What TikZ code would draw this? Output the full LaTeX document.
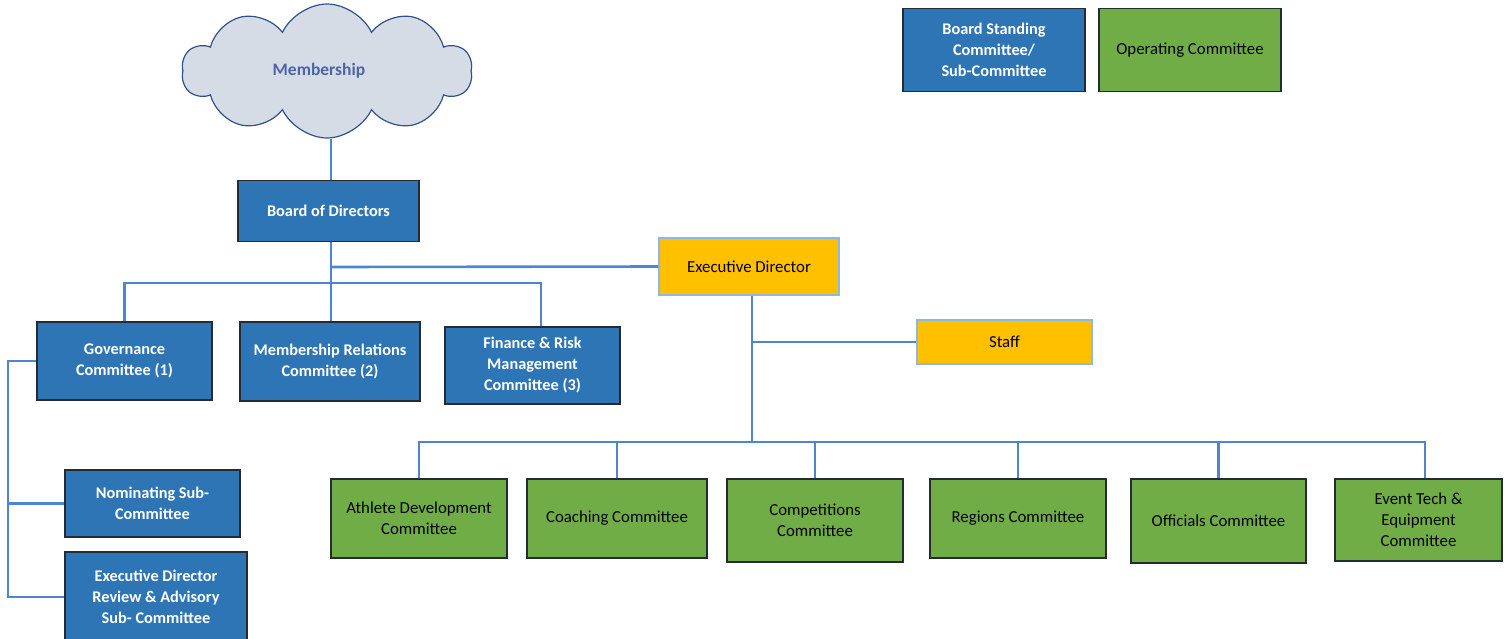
\documentclass[tikz,border=0pt]{standalone}
\usepackage{fontspec}
\setmainfont{Carlito}
\usetikzlibrary{positioning,shapes.symbols}
\definecolor{BoardBlue}{HTML}{2E75B6}
\definecolor{OpsGreen}{HTML}{70AD47}
\definecolor{ExecGold}{HTML}{FFC000}
\definecolor{EdgeDark}{HTML}{262B33}
\definecolor{LinkBlue}{HTML}{4F84CF}
\definecolor{GoldEdge}{HTML}{8DB8E6}
\definecolor{CloudGrey}{HTML}{D6DCE5}
\definecolor{CloudEdge}{HTML}{2F528F}
\definecolor{CloudText}{HTML}{4A66A8}

\begin{document}
\begin{tikzpicture}[x=1pt,y=-1pt,
    boardbox/.style={draw=EdgeDark,line width=1.4pt,fill=BoardBlue,text=white,
      font=\fontsize{16.3}{21}\selectfont\bfseries,align=center,inner sep=0pt},
    opsbox/.style={draw=EdgeDark,line width=1.4pt,fill=OpsGreen,text=black,
      font=\fontsize{16.8}{21}\selectfont,align=center,inner sep=0pt},
    goldbox/.style={draw=GoldEdge,line width=1.4pt,fill=ExecGold,text=black,
      font=\fontsize{16.8}{21}\selectfont,align=center,inner sep=0pt},
    link/.style={draw=LinkBlue,line width=2.6pt}]
  \useasboundingbox (0,0) rectangle (1510,638);

  % top of the chart
  \node[cloud,cloud puffs=10,cloud puff arc=130,cloud ignores aspect,
        draw=CloudEdge,line width=1.2pt,fill=CloudGrey,text=CloudText,
        font=\fontsize{17.5}{21}\selectfont\bfseries,
        minimum width=290,minimum height=134] (members) at (327,71) {Membership\hspace*{16pt}};
  \node[boardbox,minimum width=181,minimum height=61] (board) at (328.5,211) {Board of Directors};

  % legend
  \node[boardbox,minimum width=182,minimum height=83] (keyboard) at (994,50)
        {Board Standing\\Committee/\\Sub-Committee};
  \node[opsbox,minimum width=182,minimum height=83] (keyops) at (1190,50) {Operating Committee};

  % board committees
  \node[boardbox,minimum width=175,minimum height=78] (gov) at (124.5,361) {Governance\\Committee (1)};
  \node[boardbox,minimum width=180,minimum height=79] (mrel) at (330,361.5) {Membership Relations\\Committee (2)};
  \node[boardbox,minimum width=175,minimum height=77] (fin) at (532.5,365.5) {Finance \& Risk\\Management\\Committee (3)};
  \node[boardbox,minimum width=175,minimum height=67] (nom) at (152.5,503.5) {Nominating Sub-\\Committee};
  \node[boardbox,minimum width=182,minimum height=90] (review) at (156,597) {Executive Director\\Review \& Advisory\\Sub- Committee};

  % executive side
  \node[goldbox,minimum width=180,minimum height=57] (exec) at (749,266.5) {Executive Director};
  \node[goldbox,minimum width=175,minimum height=44] (staff) at (1004.5,342) {Staff};

  % operating committees
  \node[opsbox,minimum width=176,minimum height=79] (athl) at (419,518.5) {Athlete Development\\Committee};
  \node[opsbox,minimum width=180,minimum height=79] (coach) at (617,518.5) {Coaching Committee};
  \node[opsbox,minimum width=176,minimum height=83] (comp) at (815,520.5) {Competitions\\Committee};
  \node[opsbox,minimum width=176,minimum height=79] (reg) at (1018,518.5) {Regions Committee};
  \node[opsbox,minimum width=175,minimum height=84] (offi) at (1218.5,521) {Officials Committee};
  \node[opsbox,minimum width=167,minimum height=82] (event) at (1418.5,520) {Event Tech \&\\Equipment\\Committee};

  % connectors
  \coordinate (split) at (331,283);
  \coordinate (edtap) at (331,267);
  \coordinate (hub) at (752,442);
  \coordinate (rail) at (8,0);

  \draw[link] (members.south -| split) -- (board.north -| split);
  \draw[link] (board.south -| split) -- (mrel.north -| split);
  \draw[link] (gov.north) |- (split) -| ([xshift=8.5pt]fin.north);
  \draw[link] (edtap) -- (exec.west);
  \draw[link] (exec.south -| hub) -- (hub);
  \draw[link] (hub |- staff.west) -- (staff.west);
  \draw[link] (athl.north) |- (hub) -| ([xshift=6.5pt]event.north);
  \foreach \c in {coach,comp,reg,offi}
    \draw[link] (\c.north) -- (\c.north |- hub);
  \draw[link] (gov.west) -| (rail |- review.west) -- (review.west);
  \draw[link] (rail |- nom.west) -- (nom.west);
\end{tikzpicture}
\end{document}
